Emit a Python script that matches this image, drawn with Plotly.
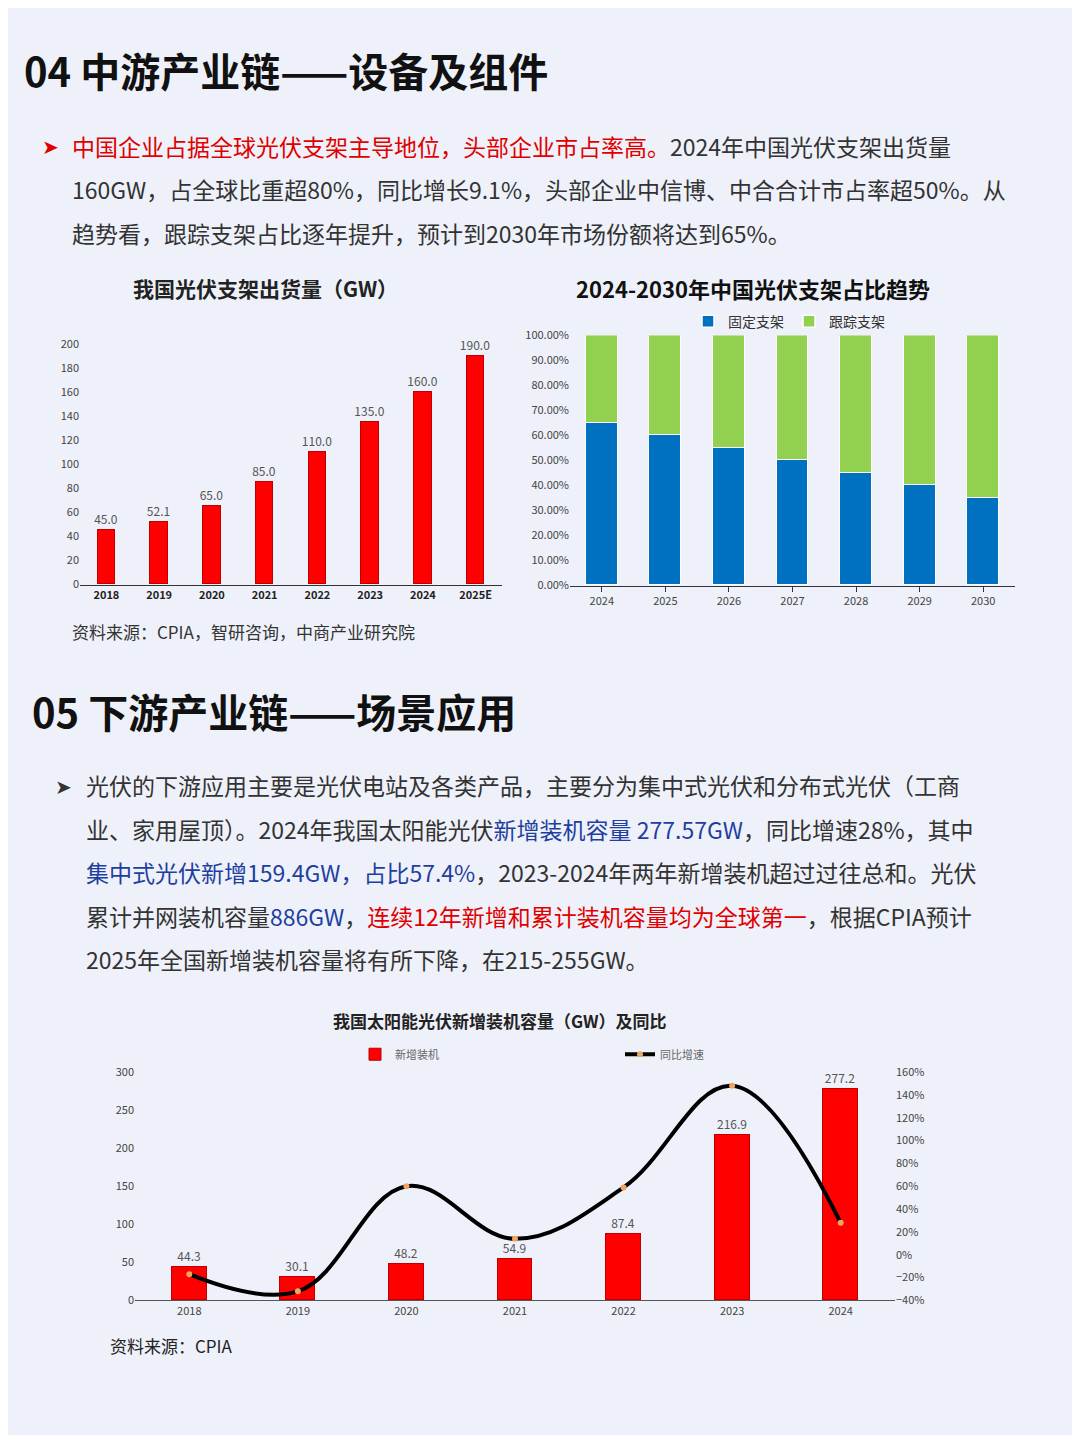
import plotly.graph_objects as go

W, H = 1064, 1427
OFF = 8
FONT = "Noto Sans CJK SC"

# chart 1: bracket shipments (GW)
years1 = ["2018", "2019", "2020", "2021", "2022", "2023", "2024", "2025E"]
ship = [45.0, 52.1, 65.0, 85.0, 110.0, 135.0, 160.0, 190.0]

# chart 2: share of fixed vs tracking brackets
years2 = ["2024", "2025", "2026", "2027", "2028", "2029", "2030"]
fixed = [0.65, 0.60, 0.55, 0.50, 0.45, 0.40, 0.35]
tracking = [0.35, 0.40, 0.45, 0.50, 0.55, 0.60, 0.65]

# chart 3: new PV installations (GW) and YoY growth
years3 = ["2018", "2019", "2020", "2021", "2022", "2023", "2024"]
install = [44.3, 30.1, 48.2, 54.9, 87.4, 216.9, 277.2]
growth = [-0.17, -0.32, 0.60, 0.14, 0.59, 1.48, 0.28]


def px(x): return (x - OFF) / W
def py(y): return 1 - (y - OFF) / H


fig = go.Figure()

fig.add_trace(go.Bar(x=years1, y=ship, marker=dict(color="#ff0000", line=dict(color="#c00000", width=1)),
                     width=0.33, text=[f"{v:.1f}" for v in ship], textposition="outside",
                     constraintext="none", textfont=dict(size=12, color="#555"), cliponaxis=False,
                     xaxis="x", yaxis="y", showlegend=False))

fig.add_trace(go.Bar(x=years2, y=fixed, name="固定支架", marker=dict(color="#0070c0", line=dict(color="white", width=1.5)),
                     width=0.5, xaxis="x2", yaxis="y2", legend="legend"))
fig.add_trace(go.Bar(x=years2, y=tracking, name="跟踪支架", marker=dict(color="#92d050", line=dict(color="white", width=1.5)),
                     width=0.5, xaxis="x2", yaxis="y2", legend="legend"))

fig.add_trace(go.Bar(x=years3, y=install, name="新增装机", marker=dict(color="#ff0000", line=dict(color="#c00000", width=1)),
                     width=0.32, text=[f"{v:.1f}" for v in install], textposition="outside",
                     constraintext="none", textfont=dict(size=12, color="#555"), cliponaxis=False,
                     xaxis="x3", yaxis="y3", legend="legend2"))
fig.add_trace(go.Scatter(x=years3, y=growth, name="同比增速", mode="lines+markers",
                         line=dict(color="black", width=4, shape="spline", smoothing=1.1),
                         marker=dict(color="#f4a460", size=6), cliponaxis=False,
                         xaxis="x3", yaxis="y4", legend="legend2"))

tick = dict(size=11, color="#444")
fig.update_layout(
    width=W, height=H, margin=dict(l=0, r=0, t=0, b=0),
    paper_bgcolor="#eef1f9", plot_bgcolor="rgba(0,0,0,0)",
    font=dict(family=FONT, color="#333"), barmode="stack", bargap=0,
    xaxis=dict(domain=[px(80), px(502)], showline=True, linecolor="#333", ticks="",
               tickfont=dict(size=11, color="#222", weight="bold")),
    yaxis=dict(domain=[py(582), py(339)], range=[0, 200], dtick=20, showgrid=False,
               tickfont=tick, zeroline=False),
    xaxis2=dict(domain=[px(570), px(1015)], anchor="y2", showline=True, linecolor="#333",
                ticks="outside", tickcolor="#333", ticklen=5, tickfont=tick),
    yaxis2=dict(domain=[py(583), py(330)], anchor="x2", range=[0, 1], dtick=0.1,
                tickformat=".2%", showgrid=False, tickfont=tick, zeroline=False),
    xaxis3=dict(domain=[px(135), px(895)], anchor="y3", showline=True, linecolor="#555",
                ticks="", tickfont=tick),
    yaxis3=dict(domain=[py(1306), py(1075)], anchor="x3", range=[0, 300], dtick=50,
                showgrid=False, tickfont=tick, zeroline=False),
    yaxis4=dict(domain=[py(1306), py(1075)], anchor="x3", overlaying="y3", side="right",
                range=[-0.4, 1.6], dtick=0.2, tickformat=".0%", showgrid=False,
                tickfont=tick, zeroline=False),
    legend=dict(orientation="h", x=px(688), y=py(316), yanchor="middle",
                font=dict(size=14, color="#333"), bgcolor="rgba(0,0,0,0)", traceorder="normal"),
    legend2=dict(orientation="h", x=px(355), y=py(1057), yanchor="middle",
                 font=dict(size=11, color="#666"), bgcolor="rgba(0,0,0,0)",
                 entrywidth=220, traceorder="normal"),
)

ann = []


def text(x, y, s, size, color="#333", anchor="left", bold=False):
    if bold:
        s = f"<b>{s}</b>"
    ann.append(dict(x=px(x), y=py(y), xref="paper", yref="paper", text=s, showarrow=False,
                    xanchor=anchor, yanchor="middle", font=dict(size=size, color=color, family=FONT)))


RED, BLUE = "#e00000", "#1f3fa0"
BODY = 23
text(22, 62, "04 中游产业链——设备及组件", 40, "#111", bold=True)
text(40, 138, "➤", 20, RED)
text(70, 138, f"<span style='color:{RED}'>中国企业占据全球光伏支架主导地位，头部企业市占率高。</span>2024年中国光伏支架出货量", BODY)
text(70, 182, "160GW，占全球比重超80%，同比增长9.1%，头部企业中信博、中合合计市占率超50%。从", BODY)
text(70, 226, "趋势看，跟踪支架占比逐年提升，预计到2030年市场份额将达到65%。", BODY)
text(265, 282, "我国光伏支架出货量（GW）", 21, "#222", "center", True)
text(753, 282, "2024-2030年中国光伏支架占比趋势", 22, "#111", "center", True)
text(70, 629, "资料来源：CPIA，智研咨询，中商产业研究院", 17, "#333")

text(30, 710, "05 下游产业链——场景应用", 40, "#111", bold=True)
text(53, 785, "➤", 20, "#333")
text(84, 785, "光伏的下游应用主要是光伏电站及各类产品，主要分为集中式光伏和分布式光伏（工商", BODY)
text(84, 829, f"业、家用屋顶）。2024年我国太阳能光伏<span style='color:{BLUE}'>新增装机容量 277.57GW</span>，同比增速28%，其中", BODY)
text(84, 873, f"<span style='color:{BLUE}'>集中式光伏新增159.4GW，占比57.4%</span>，2023-2024年两年新增装机超过过往总和。光伏", BODY)
text(84, 917, f"累计并网装机容量<span style='color:{BLUE}'>886GW</span>，<span style='color:{RED}'>连续12年新增和累计装机容量均为全球第一</span>，根据CPIA预计", BODY)
text(84, 961, "2025年全国新增装机容量将有所下降，在215-255GW。", BODY)
text(500, 1023, "我国太阳能光伏新增装机容量（GW）及同比", 17, "#222", "center", True)
text(108, 1352, "资料来源：CPIA", 17, "#222")

fig.update_layout(annotations=ann)
fig.write_html("out.html")
